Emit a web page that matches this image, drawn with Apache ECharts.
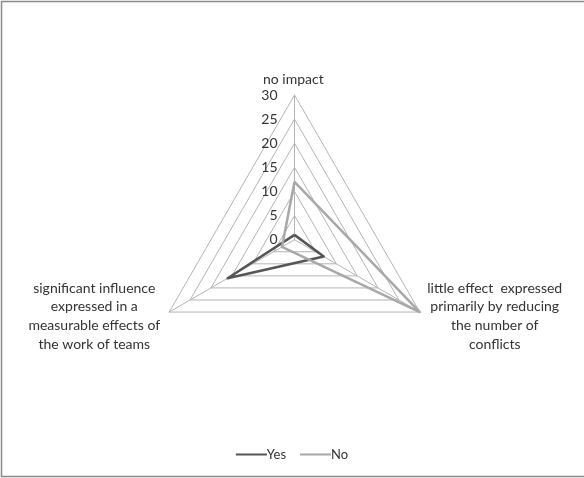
<!DOCTYPE html>
<html><head><meta charset="utf-8">
<script src="https://cdn.jsdelivr.net/npm/echarts@6/dist/echarts.min.js"></script>
<style>html,body{margin:0;padding:0;background:#fff}#c{width:584px;height:478px}</style>
</head><body><div id="c"></div>
<script>
const indicators = ['no impact', 'little effect  expressed\nprimarily by reducing\nthe number of\nconflicts', 'significant influence\nexpressed in a\nmeasurable effects of\nthe work of teams'];
const yesValues = [1, 7, 16];
const noValues = [12, 30, 3];
const seriesNames = ['Yes', 'No'];
const axisMax = 30;

// ECharts radar runs counter-clockwise; draw in clockwise order
const order = [0, 2, 1];
const font = 'Lato, "Open Sans", sans-serif';
const chart = echarts.init(document.getElementById('c'));
chart.setOption({
  animation: false,
  graphic: [{type: 'rect', shape: {x: 1.5, y: 1.5, width: 600, height: 475}, style: {fill: 'none', stroke: '#8a8a8a', lineWidth: 1.5}}],
  // top indicator name drawn as a title so it does not push the "30" tick label aside
  title: {
    text: indicators[0], left: 263, top: 71, padding: 0,
    textStyle: {color: '#333', fontFamily: font, fontSize: 14, fontWeight: 'normal', lineHeight: 16}
  },
  legend: {
    top: 443, left: 'center', itemWidth: 31, itemHeight: 2, itemGap: 14,
    icon: 'rect',
    textStyle: {color: '#333', fontFamily: font, fontSize: 13, padding: [0,0,0,-5]},
    data: seriesNames
  },
  radar: {
    center: [294.5, 239.7],
    radius: 144.7,
    startAngle: 90,
    shape: 'polygon',
    splitNumber: 6,
    nameGap: 8,
    axisName: {
      color: '#333', fontFamily: font, fontSize: 14, lineHeight: 16,
      formatter: function (v) {
        if (v.indexOf('\n') < 0) return v;
        return v.split('\n').map(s => '{c|' + s + '}').join('\n');
      },
      rich: {c: {width: 136, align: 'center', fontFamily: font, fontSize: 14, lineHeight: 18.7, color: '#333'}}
    },
    indicator: order.map(i => ({
      name: i === 0 ? '' : indicators[i], min: 0, max: axisMax,
      axisLabel: i === 0 ? {show: true, color: '#333', fontFamily: font, fontSize: 14, margin: 17, align: 'right', showMinLabel: true, showMaxLabel: true, hideOverlap: false} : {show: false}
    })),
    splitLine: {lineStyle: {color: '#b4b4b4', width: 1}},
    splitArea: {show: false},
    axisLine: {lineStyle: {color: '#b4b4b4', width: 1}},
    axisTick: {show: false}
  },
  series: [{
    type: 'radar',
    symbol: 'none',
    data: [
      {name: seriesNames[0], value: order.map(i => yesValues[i]), lineStyle: {color: '#555555', width: 2.5}, itemStyle: {color: '#555555'}},
      {name: seriesNames[1], value: order.map(i => noValues[i]), lineStyle: {color: '#a8a8a8', width: 2.5}, itemStyle: {color: '#a8a8a8'}}
    ]
  }]
});
</script></body></html>
